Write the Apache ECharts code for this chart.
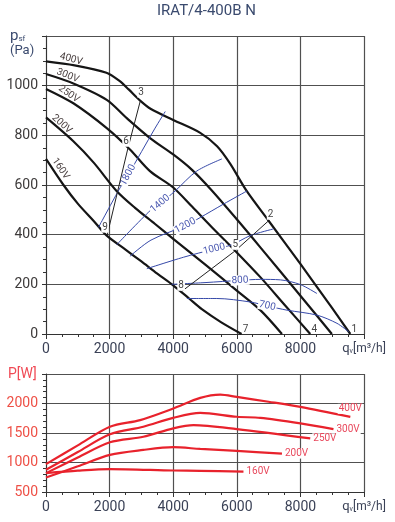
<!DOCTYPE html>
<html><head><meta charset="utf-8">
<script src="https://cdn.jsdelivr.net/npm/echarts@6/dist/echarts.min.js"></script>
<style>html,body{margin:0;padding:0;background:#fff}#c{width:395px;height:522px}</style>
</head><body><div id="c"></div>
<script>
// ---------- data ----------
const chartTitle = 'IRAT/4-400B N';
const flowTicks = [0, 2000, 4000, 6000, 8000, 10000];
const psfTicks = [0, 200, 400, 600, 800, 1000, 1200];
const powerTicks = [500, 1000, 1500, 2000, 2500];

// fan curves p_sf [Pa] vs q_v [m3/h]
const fan400 = [[0,1098],[900,1082],[1900,1052],[2300,1020],[2600,985],[2960,940],[3300,906],[4000,862],[4850,810],[5380,756],[5790,686],[6310,576],[7000,456],[8000,282],[9000,104],[9570,0]];
const fan300 = [[0,1047],[860,1009],[1910,943],[2540,869],[3270,789],[4000,723],[4600,660],[5200,580],[6000,462],[6740,349],[8000,154],[8990,0]];
const fan250 = [[0,987],[860,929],[1910,829],[2640,743],[3270,656],[4000,590],[4600,512],[5200,432],[5950,335],[6740,229],[7500,118],[8310,0]];
const fan200 = [[0,872],[860,776],[1500,690],[2220,576],[2800,508],[3430,443],[4000,383],[5000,280],[6000,175],[6740,96],[7420,0]];
const fan160 = [[0,705],[550,600],[1000,525],[1500,455],[1910,396],[2500,340],[3000,292],[3500,243],[4000,196],[4500,143],[4900,100],[5500,48],[6150,0]];
const fanNames = ['400V', '300V', '250V', '200V', '160V'];

// rpm iso-lines
const rpm1800 = [[1650,429],[2330,589],[2580,640],[3430,829],[3750,896]];
const rpm1400 = [[2220,359],[3300,500],[3590,525],[4060,576],[4740,656],[5530,705]];
const rpm1200 = [[2640,313],[3300,378],[4380,436],[4850,469],[5580,523],[6320,576]];
const rpm1000 = [[3170,263],[4320,309],[5290,342],[5840,359],[6420,396],[7150,423]];
const rpm800 = [[3950,200],[5000,207],[6100,216],[6740,220],[7370,218],[8000,199],[8520,163]];
const rpm700 = [[4430,143],[5370,143],[6420,129],[6960,113],[7580,96],[8520,76],[9150,43],[9520,9]];
const rpmNames = ['1800', '1400', '1200', '1000', '800', '700'];

// system lines (operating points)
const sysLineA = [[1920,396],[2580,750],[2960,936]];
const sysLineANames = ['9', '6', '3'];
const sysLineB = [[4250,170],[5950,335],[7000,456]];
const sysLineBNames = ['8', '5', '2'];
const endPointNames = ['1', '4', '7']; // ends of 400V, 250V, 160V

// power curves P [W]
const pow400 = [[0,972],[1000,1290],[2010,1606],[2960,1719],[4000,1915],[4850,2095],[5480,2151],[6000,2111],[7000,2030],[8000,1943],[9570,1774]];
const pow300 = [[0,876],[1000,1178],[2010,1478],[3060,1606],[4000,1757],[4850,1842],[6000,1775],[6740,1757],[8000,1663],[9040,1567]];
const pow250 = [[0,820],[1000,1085],[2010,1343],[3060,1437],[4000,1579],[4640,1634],[6000,1567],[8310,1410]];
const pow200 = [[0,746],[1000,935],[2010,1129],[3060,1213],[4000,1259],[4850,1230],[6000,1196],[7420,1151]];
const pow160 = [[0,820],[1000,862],[2010,888],[4000,864],[4850,859],[6210,847]];

// ---------- chart ----------
const F = 'Roboto, "Liberation Sans", sans-serif';
const axisCol = '#3b4257';
const gridCol = '#505050';
const blue = '#3548a8';
const red = '#e8222c';

function lbl(o) { return Object.assign({show: true, position: 'inside', fontFamily: F, fontSize: 10}, o); }
function labelled(data, marks) {
  return data.map((p, i) => marks[i] ? {value: p, label: lbl(marks[i])} : p);
}

const series = [];
const fanTop = [fan400, fan300, fan250, fan200, fan160];
const fanLbl = [
  {rotate: -15, offset: [-5, -5]},
  {rotate: -22, offset: [-8, -5]},
  {rotate: -35, offset: [-9, -5]},
  {rotate: -42, offset: [-20, -5]},
  {rotate: -55, offset: [-15, -7]}
];
const endIdx = {0: 0, 2: 1, 4: 2};
fanTop.forEach((d, k) => {
  const marks = {};
  marks[1] = Object.assign({formatter: fanNames[k], color: '#4a4040'}, fanLbl[k]);
  if (endIdx[k] !== undefined) {
    marks[d.length - 1] = {formatter: endPointNames[endIdx[k]], color: '#444', offset: [4, -5], backgroundColor: '#fff'};
  }
  series.push({type: 'line', xAxisIndex: 0, yAxisIndex: 0, data: labelled(d, marks),
    smooth: 0.3, symbol: 'circle', symbolSize: 0, showSymbol: true,
    lineStyle: {color: '#151515', width: 2.2}, silent: true, z: 3});
});

const rpmLines = [rpm1800, rpm1400, rpm1200, rpm1000, rpm800, rpm700];
const rpmLblIdx = [2, 2, 2, 2, 2, 3];
const rpmRot = [62, 40, 28, 14, 3, -12];
rpmLines.forEach((d, k) => {
  const marks = {};
  marks[rpmLblIdx[k]] = {formatter: rpmNames[k], rotate: rpmRot[k], color: '#4a58b0', backgroundColor: '#fff', padding: [0, 1]};
  series.push({type: 'line', xAxisIndex: 0, yAxisIndex: 0, data: labelled(d, marks),
    smooth: 0.3, symbol: 'circle', symbolSize: 0, showSymbol: true,
    lineStyle: {color: blue, width: 1}, silent: true, z: 4});
});

const sysOff = {'9': [-2, -8], '6': [-2, -6], '3': [1, -9], '8': [0, -6], '5': [0, -6], '2': [2, -6]};
[[sysLineA, sysLineANames], [sysLineB, sysLineBNames]].forEach(([d, names]) => {
  const marks = {};
  names.forEach((n, i) => { marks[i] = {formatter: n, color: '#444', offset: sysOff[n], backgroundColor: '#fff', padding: [0, 1]}; });
  series.push({type: 'line', xAxisIndex: 0, yAxisIndex: 0, data: labelled(d, marks),
    symbol: 'circle', symbolSize: 0, showSymbol: true,
    lineStyle: {color: '#222', width: 1}, silent: true, z: 5});
});

const powLines = [pow400, pow300, pow250, pow200, pow160];
powLines.forEach((d, k) => {
  const marks = {};
  const m = {formatter: fanNames[k], color: '#e8485c', backgroundColor: '#fff', padding: [0, 1], fontSize: 10};
  if (k === 0) { m.position = 'top'; m.distance = 3; } else { m.position = 'right'; m.distance = 2; }
  marks[d.length - 1] = m;
  series.push({type: 'line', xAxisIndex: 1, yAxisIndex: 1, data: labelled(d, marks),
    smooth: 0.3, symbol: 'circle', symbolSize: 0, showSymbol: true,
    lineStyle: {color: red, width: 2.2}, silent: true, z: 3});
});

function xAxis(gi) {
  return {
    type: 'value', gridIndex: gi, min: flowTicks[0], max: flowTicks[flowTicks.length - 1], interval: flowTicks[1] - flowTicks[0],
    axisLine: {show: true, lineStyle: {color: '#333', width: 1}},
    axisTick: {show: true, length: 5, lineStyle: {color: '#333'}},
    minorTick: {show: true, splitNumber: 4, length: 3, lineStyle: {color: '#333'}},
    splitLine: {show: true, lineStyle: {color: gridCol, width: 1.2}},
    axisLabel: {color: axisCol, fontFamily: F, fontSize: 14, margin: 8,
      formatter: v => v === flowTicks[flowTicks.length - 1] ? '{q|q}{v|v}{u|[m³/h]}' : String(v),
      rich: {q: {fontSize: 13, fontFamily: F, color: axisCol}, v: {fontSize: 7, fontFamily: F, color: axisCol, padding: [6, 0, 0, 0]}, u: {fontSize: 12, fontFamily: F, color: axisCol}}}
  };
}

const option = {
  animation: false,
  backgroundColor: '#fff',
  title: {text: chartTitle, left: 157, top: 4, padding: 0,
    textStyle: {fontFamily: F, fontSize: 15, fontWeight: 'normal', color: '#3a4a6e'}},
  grid: [
    {left: 46, right: 31, top: 36, bottom: 188},
    {left: 46, right: 31, top: 374, bottom: 30}
  ],
  xAxis: [xAxis(0), xAxis(1)],
  yAxis: [
    {type: 'value', gridIndex: 0, min: psfTicks[0], max: psfTicks[psfTicks.length - 1], interval: psfTicks[1] - psfTicks[0],
      axisLine: {show: true, lineStyle: {color: '#333'}},
      axisTick: {show: true, length: 4, lineStyle: {color: '#333'}},
      minorTick: {show: true, splitNumber: 4, length: 3, lineStyle: {color: '#333'}},
      splitLine: {show: true, lineStyle: {color: gridCol, width: 1.2}},
      axisLabel: {color: '#3d3a3a', fontFamily: F, fontSize: 14, margin: 8,
        formatter: v => v === psfTicks[psfTicks.length - 1] ? '' : String(v)}},
    {type: 'value', gridIndex: 1, min: powerTicks[0], max: powerTicks[powerTicks.length - 1], interval: powerTicks[1] - powerTicks[0],
      axisLine: {show: true, lineStyle: {color: '#333'}},
      axisTick: {show: true, length: 4, lineStyle: {color: '#333'}},
      minorTick: {show: true, splitNumber: 5, length: 3, lineStyle: {color: '#333'}},
      splitLine: {show: true, lineStyle: {color: gridCol, width: 1.2}},
      axisLabel: {color: '#ee5046', fontFamily: F, fontSize: 14, margin: 8,
        formatter: v => v === powerTicks[powerTicks.length - 1] ? '' : String(v)}}
  ],
  graphic: [
    {type: 'text', left: 10, top: 29, silent: true, style: {
      text: '{p|p}{s|sf}\n{n|(Pa)}', fontFamily: F,
      rich: {p: {fontSize: 15, fontFamily: F, fill: '#3a4a6e', lineHeight: 14},
             s: {fontSize: 8, fontFamily: F, fill: '#3a4a6e', padding: [4, 0, 0, 0], lineHeight: 14},
             n: {fontSize: 13, fontFamily: F, fill: '#3a4a6e', lineHeight: 14}}}},
    {type: 'text', left: 8, top: 367, silent: true, style: {
      text: 'P[W]', fontFamily: F, fontSize: 14, fill: '#f04a55'}}
  ],
  series: series
};
const chart = echarts.init(document.getElementById('c'));
chart.setOption(option);
</script>
</body></html>
